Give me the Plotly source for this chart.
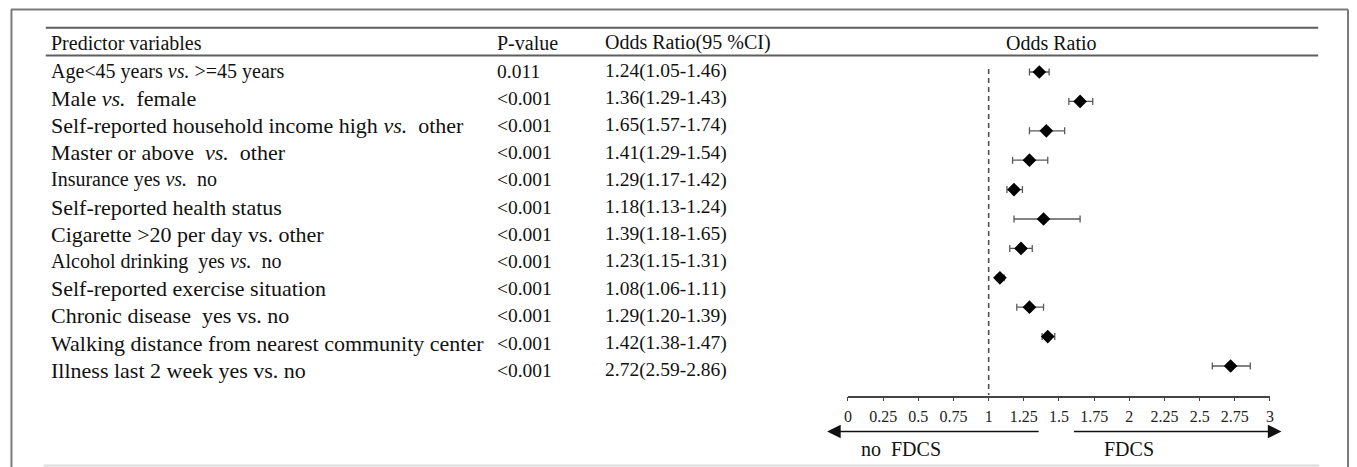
import plotly.graph_objects as go

W, H = 1357, 467
SERIF = "Liberation Serif, Times New Roman, serif"
INK = "#111111"

# ---- table data -------------------------------------------------------------
predictors = [
    "Age&lt;45 years <i>vs.</i> &gt;=45 years",
    "Male <i>vs.</i>\u00a0 female",
    "Self-reported household income high <i>vs.</i>\u00a0 other",
    "Master or above\u00a0 <i>vs.</i>\u00a0 other",
    "Insurance yes <i>vs.</i>\u00a0 no",
    "Self-reported health status",
    "Cigarette &gt;20 per day vs. other",
    "Alcohol drinking\u00a0 yes <i>vs.</i>\u00a0 no",
    "Self-reported exercise situation",
    "Chronic disease\u00a0 yes vs. no",
    "Walking distance from nearest community center",
    "Illness last 2 week yes vs. no",
]
label_sizes = [20, 22, 22, 22, 20, 22, 22, 20, 22, 22, 22, 22]
p_values = ["0.011"] + ["&lt;0.001"] * 11
odds_ratio = [1.24, 1.36, 1.65, 1.41, 1.29, 1.18, 1.39, 1.23, 1.08, 1.29, 1.42, 2.72]
ci_low = [1.05, 1.29, 1.57, 1.29, 1.17, 1.13, 1.18, 1.15, 1.06, 1.20, 1.38, 2.59]
ci_high = [1.46, 1.43, 1.74, 1.54, 1.42, 1.24, 1.65, 1.31, 1.11, 1.39, 1.47, 2.86]

tick_values = [0, 0.25, 0.5, 0.75, 1, 1.25, 1.5, 1.75, 2, 2.25, 2.5, 2.75, 3]
tick_labels = ["0", "0.25", "0.5", "0.75", "1", "1.25", "1.5", "1.75",
               "2", "2.25", "2.5", "2.75", "3"]

# forest panel shows the predictors after the first one
forest_or = odds_ratio[1:]
forest_lo = ci_low[1:]
forest_hi = ci_high[1:]
forest_pos = list(range(len(forest_or)))


def px_x(v):
    return v / W


def px_y(v):
    return 1 - v / H


fig = go.Figure()
fig.add_trace(go.Scatter(
    x=forest_or,
    y=forest_pos,
    mode="markers",
    marker=dict(symbol="diamond", size=10.5, color="#000000"),
    error_x=dict(
        type="data", symmetric=False,
        array=[h - o for h, o in zip(forest_hi, forest_or)],
        arrayminus=[o - l for o, l in zip(forest_or, forest_lo)],
        color="#5a5a5a", thickness=1.3, width=3.5,
    ),
    showlegend=False,
    hoverinfo="x",
))

# ---- text columns -----------------------------------------------------------
ann = []
row_top, row_step = 71.0, 27.2
header_y = 42.5
ann.append(dict(text="Predictor variables", x=px_x(45), y=px_y(header_y), size=20))
ann.append(dict(text="P-value", x=px_x(494), y=px_y(header_y), size=20))
ann.append(dict(text="Odds Ratio(95 %CI)", x=px_x(603), y=px_y(header_y), size=20))

for i, name in enumerate(predictors):
    yc = row_top + i * row_step
    ann.append(dict(text=name, x=px_x(45), y=px_y(yc), size=label_sizes[i]))
    ann.append(dict(text=p_values[i], x=px_x(494), y=px_y(yc), size=19.5))
    ann.append(dict(text=f"{odds_ratio[i]:.2f}({ci_low[i]:.2f}-{ci_high[i]:.2f})",
                    x=px_x(603), y=px_y(yc), size=19.5))

annotations = [
    dict(text=a["text"], x=a["x"], y=a["y"], xref="paper", yref="paper",
         xanchor="left", yanchor="middle", showarrow=False,
         font=dict(family=SERIF, size=a["size"], color=INK))
    for a in ann
]
annotations.append(dict(text="Odds Ratio", x=px_x(1054), y=px_y(header_y),
                        xref="paper", yref="paper", xanchor="center", yanchor="middle",
                        showarrow=False, font=dict(family=SERIF, size=20, color=INK)))
annotations.append(dict(text="no\u00a0 FDCS", x=px_x(902), y=px_y(449),
                        xref="paper", yref="paper", xanchor="center", yanchor="middle",
                        showarrow=False, font=dict(family=SERIF, size=20, color=INK)))
annotations.append(dict(text="FDCS", x=px_x(1132), y=px_y(449),
                        xref="paper", yref="paper", xanchor="center", yanchor="middle",
                        showarrow=False, font=dict(family=SERIF, size=20, color=INK)))

# direction arrows under the axis
arrow_y = px_y(431.5)
for head, tail in [(828, 1041), (1285, 1076)]:
    annotations.append(dict(
        text="", x=px_x(head), y=arrow_y, xref="paper", yref="paper",
        ax=tail - head, ay=0, axref="pixel", ayref="pixel",
        showarrow=True, arrowhead=2, arrowsize=1.6, arrowwidth=1.7,
        arrowcolor="#111111",
    ))

# ---- frame, rules and reference line -----------------------------------------
frame = "#7a7a7a"
shapes = [
    dict(type="line", xref="paper", yref="paper", x0=px_x(7), x1=px_x(1352),
         y0=px_y(9.5), y1=px_y(9.5), line=dict(color=frame, width=2)),
    dict(type="line", xref="paper", yref="paper", x0=px_x(7.5), x1=px_x(7.5),
         y0=px_y(9.5), y1=0, line=dict(color=frame, width=2)),
    dict(type="line", xref="paper", yref="paper", x0=px_x(1352), x1=px_x(1352),
         y0=px_y(9.5), y1=0, line=dict(color=frame, width=2)),
    dict(type="line", xref="paper", yref="paper", x0=px_x(40), x1=px_x(1323),
         y0=px_y(465.5), y1=px_y(465.5), line=dict(color="#dcdcdc", width=2)),
    dict(type="line", xref="paper", yref="paper", x0=px_x(42), x1=px_x(1322),
         y0=px_y(27.7), y1=px_y(27.7), line=dict(color="#5e5e5e", width=2)),
    dict(type="line", xref="paper", yref="paper", x0=px_x(42), x1=px_x(1322),
         y0=px_y(55.5), y1=px_y(55.5), line=dict(color="#5e5e5e", width=2)),
    dict(type="line", xref="x", yref="paper", x0=1, x1=1,
         y0=px_y(69), y1=px_y(395), line=dict(color="#505050", width=1.6, dash="5px,4px")),
]

axis_y = 395.5
top_y = 60.0
first_row, row_gap = 72.0, 29.4
y_top_val = -(first_row - top_y) / row_gap
y_bot_val = (len(forest_or) - 1) + (axis_y - (first_row + (len(forest_or) - 1) * row_gap)) / row_gap

fig.update_layout(
    width=W, height=H,
    margin=dict(l=0, r=0, t=0, b=0),
    paper_bgcolor="white", plot_bgcolor="white",
    annotations=annotations,
    shapes=shapes,
    xaxis=dict(
        domain=[849 / W, 1273.5 / W], range=[0, 3],
        tickvals=tick_values, ticktext=tick_labels,
        showline=True, linecolor="#444444", linewidth=1.5,
        ticks="outside", ticklen=4, tickwidth=1.3, tickcolor="#444444",
        ticklabelstandoff=2,
        tickfont=dict(family=SERIF, size=16, color="#222222"),
        showgrid=False, zeroline=False, fixedrange=True,
    ),
    yaxis=dict(
        domain=[px_y(axis_y), px_y(top_y)], range=[y_bot_val, y_top_val],
        visible=False, showgrid=False, zeroline=False, fixedrange=True,
    ),
)

fig.write_html("out.html")
